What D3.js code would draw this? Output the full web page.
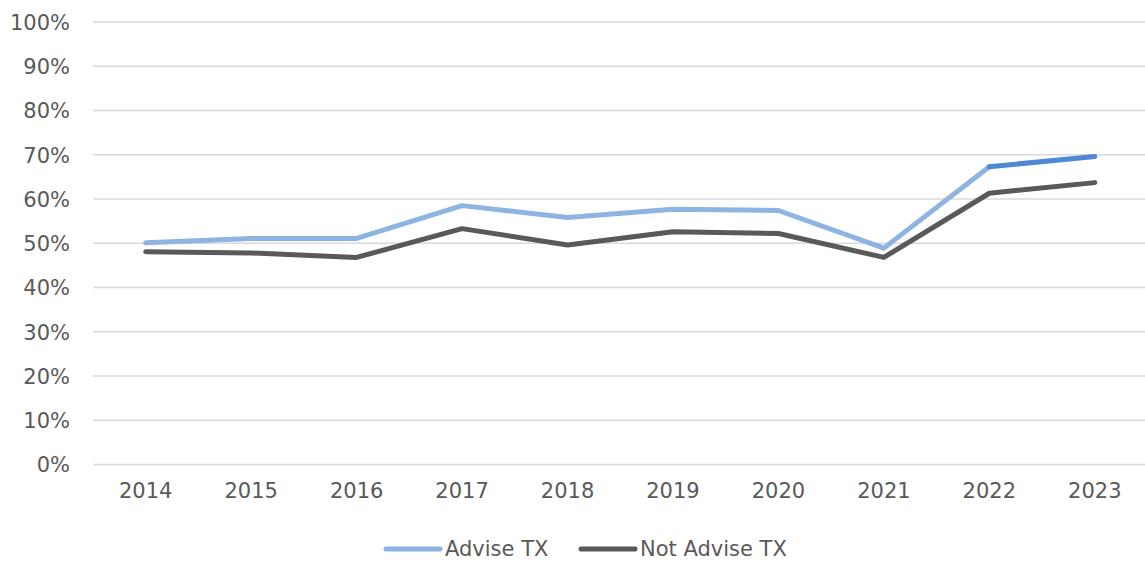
<!DOCTYPE html>
<html>
<head>
<meta charset="utf-8">
<script src="https://cdn.jsdelivr.net/npm/d3@7/dist/d3.min.js"></script>
<style>
  html, body { margin: 0; padding: 0; background: #fff; }
  svg { display: block; }
  text { font-family: "DejaVu Sans", sans-serif; fill: #595959; }
</style>
</head>
<body>
<svg id="chart" width="1145" height="563"></svg>
<script>
const years = ["2014","2015","2016","2017","2018","2019","2020","2021","2022","2023"];
const adviseTX = [50.1, 51.1, 51.1, 58.5, 55.8, 57.7, 57.4, 48.9, 67.3, 69.6];
const notAdviseTX = [48.1, 47.8, 46.8, 53.3, 49.6, 52.6, 52.2, 46.8, 61.3, 63.7];
const yTicks = [0, 10, 20, 30, 40, 50, 60, 70, 80, 90, 100];
const seriesNames = ["Advise TX", "Not Advise TX"];

const svg = d3.select("#chart");
const x = d3.scaleBand().domain(years).range([93, 1147.5]);
const y = d3.scaleLinear().domain([0, 100]).range([464.5, 22]);
const cx = d => x(d) + x.bandwidth() / 2;

// gridlines
svg.append("g").selectAll("line").data(yTicks).join("line")
  .attr("x1", 93).attr("x2", 1145)
  .attr("y1", d => y(d)).attr("y2", d => y(d))
  .attr("stroke", "#d9d9d9").attr("stroke-width", 1.5);

// y axis
const yAxis = d3.axisLeft(y).tickValues(yTicks).tickFormat(d => d + "%").tickSize(0).tickPadding(0);
const gy = svg.append("g").attr("transform", "translate(70,0)").call(yAxis);
gy.select(".domain").remove();
gy.selectAll("text").attr("font-size", 21).attr("font-family", "DejaVu Sans").attr("fill", "#595959").attr("dy", "0.35em");

// x axis
const xAxis = d3.axisBottom(x).tickSize(0).tickPadding(0);
const gx = svg.append("g").attr("transform", "translate(0,482)").call(xAxis);
gx.select(".domain").remove();
gx.selectAll("text").attr("font-size", 21).attr("font-family", "DejaVu Sans").attr("fill", "#595959").attr("dy", "0.75em");

const line = d3.line().x(d => cx(d.year)).y(d => y(d.v));
const toPts = arr => years.map((yr, i) => ({year: yr, v: arr[i]}));

const lightBlue = "#8db4e2";
const darkBlue = "#4f88d4";
const gray = "#595959";

// Not Advise TX
svg.append("path").datum(toPts(notAdviseTX)).attr("d", line)
  .attr("fill", "none").attr("stroke", gray).attr("stroke-width", 5)
  .attr("stroke-linejoin", "round").attr("stroke-linecap", "round");

// Advise TX
const advPts = toPts(adviseTX);
svg.append("path").datum(advPts.slice(0, 9)).attr("d", line)
  .attr("fill", "none").attr("stroke", lightBlue).attr("stroke-width", 5)
  .attr("stroke-linejoin", "round").attr("stroke-linecap", "round");
svg.append("path").datum(advPts.slice(8)).attr("d", line)
  .attr("fill", "none").attr("stroke", darkBlue).attr("stroke-width", 5)
  .attr("stroke-linejoin", "round").attr("stroke-linecap", "round");

// legend
const legend = [
  {name: seriesNames[0], color: lightBlue, x: 386},
  {name: seriesNames[1], color: gray, x: 581}
];
const lg = svg.append("g").selectAll("g").data(legend).join("g")
  .attr("transform", d => `translate(${d.x},549)`);
lg.append("line").attr("x1", 0).attr("x2", 54).attr("y1", 0).attr("y2", 0)
  .attr("stroke", d => d.color).attr("stroke-width", 5).attr("stroke-linecap", "round");
lg.append("text").attr("x", 59).attr("y", 0).attr("dy", "0.35em")
  .attr("font-size", 21).text(d => d.name);
</script>
</body>
</html>
